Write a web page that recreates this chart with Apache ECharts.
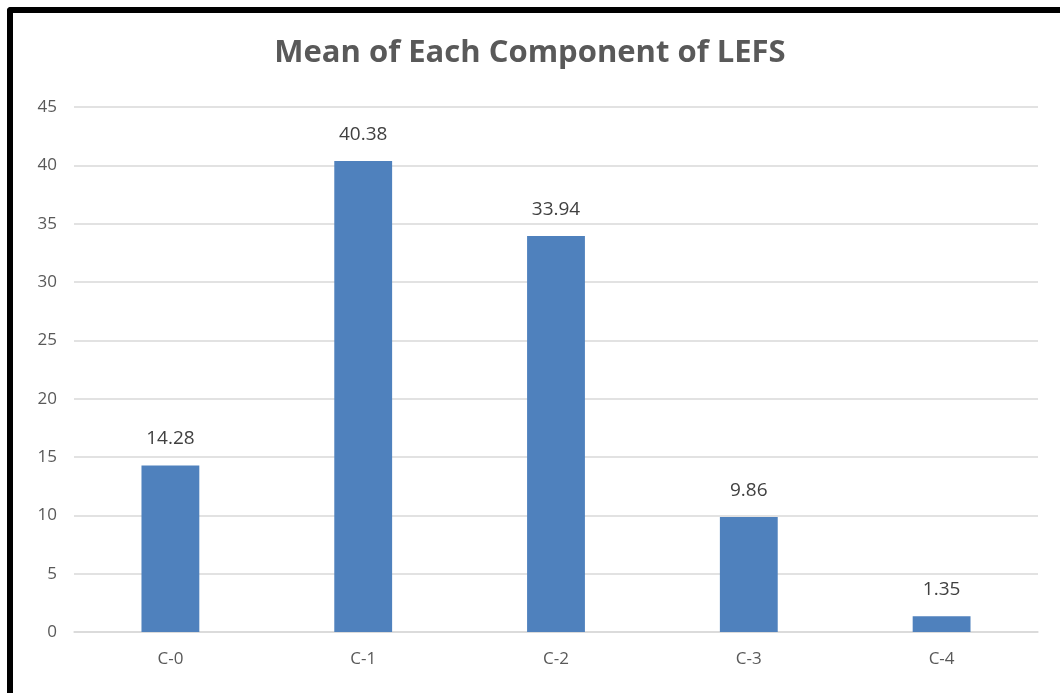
<!DOCTYPE html>
<html lang="en">
<head>
    <meta charset="UTF-8">
    <title>Mean of Each Component of LEFS</title>
    <style type="text/css">
        body { margin: 0; background: #fff; }
        #main { position: absolute; left: 0; top: 0; width: 1060px; height: 693px; }
        .frame {
            position: absolute; left: 7px; top: 7px; width: 1080px; height: 720px;
            border-top: 6px solid #000; border-left: 6px solid #000;
            border-top-left-radius: 4px; pointer-events: none;
        }
    </style>
</head>
<body>
<div id="main"></div>
<div class="frame"></div>
<script src="https://cdn.jsdelivr.net/npm/echarts@6/dist/echarts.min.js"></script>
<script type="text/javascript">
    // 数据
    var categories = ['C-0', 'C-1', 'C-2', 'C-3', 'C-4'];
    var means = [14.28, 40.38, 33.94, 9.86, 1.35];
    var yTicks = [0, 45, 5]; // min, max, interval

    var myChart = echarts.init(document.getElementById('main'));
    var option = {
        animation: false,
        title: {
            text: 'Mean of Each Component of LEFS',
            left: 'center',
            top: 33,
            textStyle: {
                fontFamily: 'Open Sans',
                fontSize: 31,
                fontWeight: 'bold',
                color: '#595959'
            }
        },
        grid: {
            left: 74,
            right: 22,
            top: 107,
            bottom: 61
        },
        xAxis: {
            type: 'category',
            data: categories,
            axisLine: { lineStyle: { color: '#d9d9d9', width: 1.5 } },
            axisTick: { show: false },
            axisLabel: {
                margin: 19,
                fontFamily: 'Open Sans',
                fontSize: 17,
                color: '#595959'
            }
        },
        yAxis: {
            type: 'value',
            min: yTicks[0],
            max: yTicks[1],
            interval: yTicks[2],
            axisLine: { show: false },
            axisTick: { show: false },
            splitLine: { lineStyle: { color: '#d9d9d9', width: 1.5 } },
            axisLabel: {
                margin: 17,
                fontFamily: 'Open Sans',
                fontSize: 17,
                color: '#595959'
            }
        },
        series: [{
            type: 'bar',
            data: means,
            barWidth: '30%',
            itemStyle: { color: '#4f81bd' },
            label: {
                show: true,
                position: 'top',
                distance: 17,
                fontFamily: 'Open Sans',
                fontSize: 19,
                color: '#404040'
            }
        }]
    };
    myChart.setOption(option);
</script>
</body>
</html>
